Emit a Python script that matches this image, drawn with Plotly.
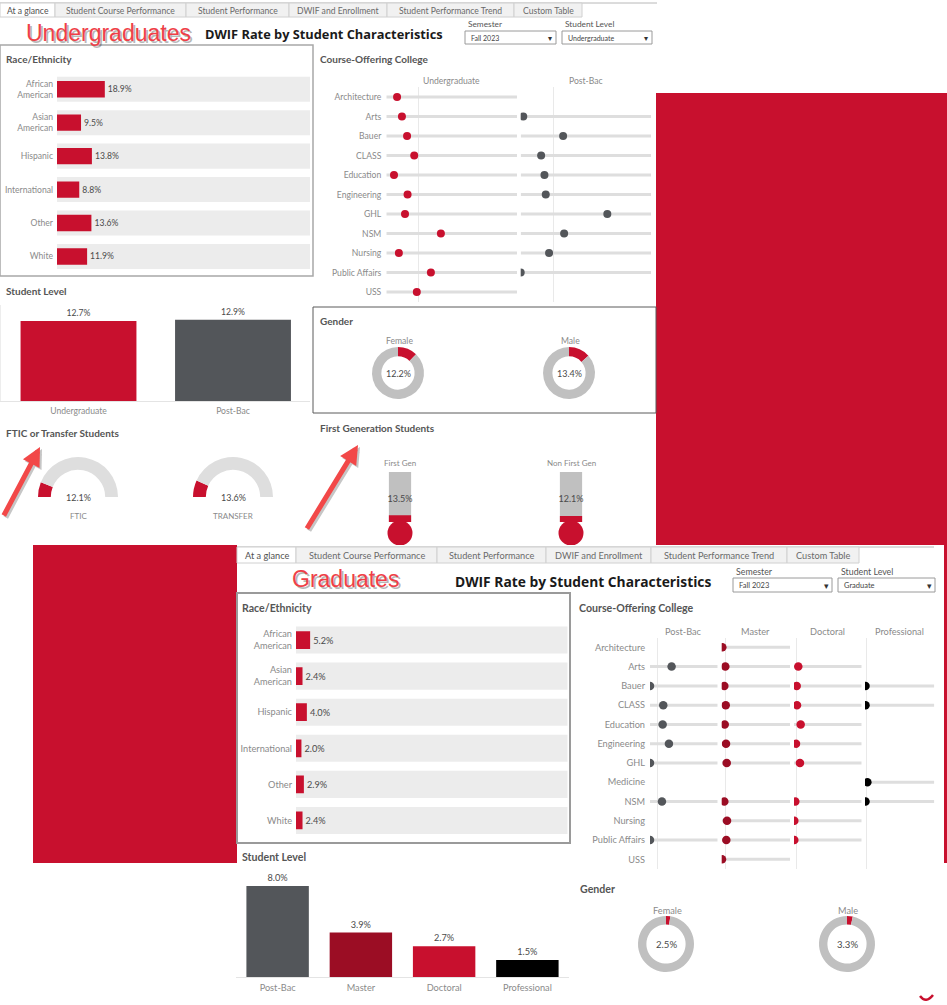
import plotly.graph_objects as go

W, H = 947, 1005
RED = "#c8102e"
DRED = "#9b0d24"
DGRAY = "#53565a"
LGRAY = "#dcdcdc"
RING = "#c0c0c0"
LBL = "#8a8a8a"
TXT = "#4a4a4a"
FONT = "Lato"

# ---------------- data ----------------
race_labels = ["African<br>American", "Asian<br>American", "Hispanic", "International", "Other", "White"]
ug_race = [18.9, 9.5, 13.8, 8.8, 13.6, 11.9]
gr_race = [5.2, 2.4, 4.0, 2.0, 2.9, 2.4]

ug_levels = ["Undergraduate", "Post-Bac"]
ug_level_vals = [12.7, 12.9]
gr_levels = ["Post-Bac", "Master", "Doctoral", "Professional"]
gr_level_vals = [8.0, 3.9, 2.7, 1.5]

ug_colleges = ["Architecture", "Arts", "Bauer", "CLASS", "Education", "Engineering", "GHL",
               "NSM", "Nursing", "Public Affairs", "USS"]
ug_college_ug = [4.2, 6.1, 8.1, 10.9, 3.0, 8.3, 7.3, 21.3, 4.9, 17.4, 11.9]
ug_college_pb = [None, 1.0, 16.6, 8.0, 9.3, 9.8, 33.9, 17.0, 11.1, 0.0, None]

gr_colleges = ["Architecture", "Arts", "Bauer", "CLASS", "Education", "Engineering", "GHL",
               "Medicine", "NSM", "Nursing", "Public Affairs", "USS"]
gr_college_pb = [None, 21.7, 0.0, 13.3, 12.7, 19.0, 0.0, None, 12.0, None, 0.0, None]
gr_college_master = [0.6, 3.6, 2.6, 4.0, 3.0, 4.3, 5.0, None, 2.6, 5.3, 4.6, 0.3]
gr_college_doct = [None, 4.3, 2.7, 3.0, 6.7, 2.0, 6.0, None, 1.3, 0.3, 0.3, None]
gr_college_prof = [None, None, 0.5, 0.5, None, None, None, 2.3, 0.5, None, None, None]

gender_labels = ["Female", "Male"]
ug_gender = [12.2, 13.4]
gr_gender = [2.5, 3.3]

ftic_labels = ["FTIC", "TRANSFER"]
ftic_vals = [12.1, 13.6]

firstgen_labels = ["First Gen", "Non First Gen"]
firstgen_vals = [13.5, 12.1]

tab_names = ["At a glance", "Student Course Performance", "Student Performance",
             "DWIF and Enrollment", "Student Performance Trend", "Custom Table"]


# ---------------- helpers ----------------
def px(x):
    return x / W


def py(y):
    return 1 - y / H


def dx(a, b):
    return [a / W, b / W]


def dy(top, bottom):
    return [1 - bottom / H, 1 - top / H]


fig = go.Figure()
layout = {}
annotations = []
shapes = []


def axname(n):
    return ("xaxis", "yaxis") if n == 1 else (f"xaxis{n}", f"yaxis{n}")


def ref(n):
    return ("x", "y") if n == 1 else (f"x{n}", f"y{n}")


def add_axes(n, xd, yd, xkw=None, ykw=None):
    xa, ya = axname(n)
    xr, yr = ref(n)
    base = dict(showgrid=False, zeroline=False, showticklabels=False, ticks="",
                fixedrange=True, showline=False)
    xk = dict(base, domain=xd, anchor=yr)
    yk = dict(base, domain=yd, anchor=xr)
    if xkw:
        xk.update(xkw)
    if ykw:
        yk.update(ykw)
    layout[xa] = xk
    layout[ya] = yk


def text(x, y, s, size=9, color=TXT, xanchor="center", yanchor="middle", family=FONT, **kw):
    annotations.append(dict(x=px(x), y=py(y), xref="paper", yref="paper", text=s,
                            showarrow=False, xanchor=xanchor, yanchor=yanchor,
                            font=dict(size=size, color=color, family=family), **kw))


def rect(x0, y0, x1, y1, fill=None, line=None, lw=1, layer="below"):
    shapes.append(dict(type="rect", xref="paper", yref="paper",
                       x0=px(x0), x1=px(x1), y0=py(y1), y1=py(y0),
                       fillcolor=fill if fill else "rgba(0,0,0,0)",
                       line=dict(color=line if line else "rgba(0,0,0,0)", width=lw if line else 0),
                       layer=layer))


def hline(x0, x1, y, color, w=1):
    shapes.append(dict(type="line", xref="paper", yref="paper", x0=px(x0), x1=px(x1),
                       y0=py(y), y1=py(y), line=dict(color=color, width=w), layer="below"))


# ---------------- background panels ----------------
rect(656, 93, 947, 545, fill=RED)
rect(33, 545, 947, 863, fill=RED)
rect(237, 545, 944, 1005, fill="white")
# small red stroke at the bottom-right corner
shapes.append(dict(type="path", xref="paper", yref="paper",
                   path=f"M {px(920)} {py(996)} Q {px(926)} {py(1004)} {px(933)} {py(995)}",
                   line=dict(color=RED, width=2.5), layer="below"))


# ---------------- tabs / headers ----------------
def tabs(edges, ytop, ybot, size):
    hline(edges[0], edges[-1] + 75, ytop, "#b8b8b8", 1)
    for i, name in enumerate(tab_names):
        a, b = edges[i], edges[i + 1]
        rect(a, ytop, b, ybot, fill="white" if i == 0 else "#f1f1f1", line="#d0d0d0", lw=1)
        text((a + b) / 2, (ytop + ybot) / 2 + 0.5, name, size=size, color="#505050" if i == 0 else "#6a6a6a")


tabs([0, 55, 186, 289, 387, 514, 582], 3, 17, 8.6)
tabs([237, 296, 437, 546, 651, 787, 859], 547, 563, 9.2)


def dropdown(x0, x1, ytop, ybot, label, value, size):
    text(x0 + 1, ytop - 7, label, size=size, color="#555", xanchor="left")
    rect(x0, ytop, x1, ybot, fill="white", line="#9a9a9a", lw=1)
    text(x0 + 4, (ytop + ybot) / 2, value, size=size - 1.3, color="#444", xanchor="left")
    text(x1 - 6, (ytop + ybot) / 2, "▾", size=size, color="#333")


dropdown(465, 556, 31, 44, "Semester", "Fall 2023", 8.3)
dropdown(562, 652, 31, 44, "Student Level", "Undergraduate", 8.3)
dropdown(733, 832, 578, 592, "Semester", "Fall 2023", 8.8)
dropdown(838, 935, 578, 592, "Student Level", "Graduate", 8.8)

# big red titles with shadow
text(110, 35, "Undergraduates", size=23, color="rgba(0,0,0,0.28)", family="Liberation Sans")
text(108, 33, "Undergraduates", size=23, color="#ef3f48", family="Liberation Sans")
text(347, 581, "Graduates", size=23, color="rgba(0,0,0,0.28)", family="Liberation Sans")
text(345, 579, "Graduates", size=23, color="#ef3f48", family="Liberation Sans")
text(203, 34, "<b>DWIF Rate by Student Characteristics</b>", size=12.8, color="#1a1a1a",
     xanchor="left", family="Open Sans")
text(453, 581, "<b>DWIF Rate by Student Characteristics</b>", size=13.8, color="#1a1a1a",
     xanchor="left", family="Open Sans")

# section titles
for (x, y, s, sz) in [(4, 59, "Race/Ethnicity", 10), (318, 59, "Course-Offering College", 10),
                      (4, 291, "Student Level", 10), (318, 321, "Gender", 10),
                      (4, 433, "FTIC or Transfer Students", 10), (318, 428, "First Generation Students", 10),
                      (240, 608, "Race/Ethnicity", 10.6), (577, 608, "Course-Offering College", 10.6),
                      (240, 857, "Student Level", 10.6), (578, 889, "Gender", 10.6)]:
    text(x, y, f"<b>{s}</b>", size=sz, color="#555", xanchor="left")

# panel borders
rect(0, 45, 313, 276, line="#a8a8a8", lw=1.5)
rect(313, 307, 656, 413, line="#5a5a5a", lw=1)
rect(237, 593, 570, 843, line="#9a9a9a", lw=2)


# ---------------- race / ethnicity bars ----------------
def race_chart(n, vals, xd, yd, size):
    xr, yr = ref(n)
    idx = list(range(len(race_labels)))
    fig.add_trace(go.Bar(x=[100] * len(vals), y=idx, orientation="h", width=0.75,
                         marker=dict(color="#ececec", line=dict(width=0)),
                         hoverinfo="skip", xaxis=xr, yaxis=yr, showlegend=False))
    fig.add_trace(go.Bar(x=vals, y=idx, orientation="h", width=0.49,
                         marker=dict(color=RED, line=dict(width=0)),
                         text=[f"{v:.1f}%" for v in vals], textposition="outside",
                         textfont=dict(size=size, color=TXT, family=FONT), cliponaxis=False,
                         xaxis=xr, yaxis=yr, showlegend=False))
    add_axes(n, xd, yd, xkw=dict(range=[0, 100]),
             ykw=dict(range=[5.5, -0.5], tickvals=idx, ticktext=race_labels, showticklabels=True,
                      tickfont=dict(size=size, color=LBL, family=FONT), ticklabelstandoff=3))


race_chart(1, ug_race, dx(57, 310), dy(72.5, 273.2), 8.6)
race_chart(6, gr_race, dx(296, 567.7), dy(622, 838.5), 9.2)


# ---------------- student level bars ----------------
def level_chart(n, cats, vals, colors, xd, yd, ymax, size):
    xr, yr = ref(n)
    idx = list(range(len(cats)))
    fig.add_trace(go.Bar(x=idx, y=vals, width=0.75, marker=dict(color=colors, line=dict(width=0)),
                         text=[f"{v:.1f}%" for v in vals], textposition="outside",
                         textfont=dict(size=size, color=TXT, family=FONT), cliponaxis=False,
                         xaxis=xr, yaxis=yr, showlegend=False))
    add_axes(n, xd, yd,
             xkw=dict(range=[-0.5, len(cats) - 0.5], tickvals=idx, ticktext=cats, showticklabels=True,
                      tickfont=dict(size=size, color=LBL, family=FONT), showline=True,
                      linecolor="#e4e4e4", linewidth=1, ticklabelstandoff=2),
             ykw=dict(range=[0, ymax], showline=True, linecolor="#ededed", linewidth=1))


level_chart(2, ug_levels, ug_level_vals, [RED, DGRAY], dx(1.25, 310.25), dy(305, 401), 15.24, 8.6)
level_chart(7, gr_levels, gr_level_vals, [DGRAY, DRED, RED, "#000000"], dx(236, 569), dy(870, 977),
            9.4, 9.2)
layout["yaxis7"]["showline"] = False


# ---------------- course-offering college dot plots ----------------
def dot_panel(n, cats, vals, ref_val, color, xd, yd, xmax, show_labels, size, msize):
    xr, yr = ref(n)
    lx, ly, mx, my = [], [], [], []
    for i, v in enumerate(vals):
        if v is None:
            continue
        lx += [0, xmax, None]
        ly += [i, i, None]
        mx.append(v)
        my.append(i)
    fig.add_trace(go.Scatter(x=lx, y=ly, mode="lines", line=dict(color="#dedede", width=3),
                             hoverinfo="skip", xaxis=xr, yaxis=yr, showlegend=False, cliponaxis=True))
    fig.add_trace(go.Scatter(x=mx, y=my, mode="markers", marker=dict(color=color, size=msize),
                             xaxis=xr, yaxis=yr, showlegend=False, cliponaxis=True))
    idx = list(range(len(cats)))
    ykw = dict(range=[len(cats) - 0.5, -0.5], tickvals=idx, ticktext=cats,
               showticklabels=show_labels, tickfont=dict(size=size, color=LBL, family=FONT),
               ticklabelstandoff=4)
    add_axes(n, xd, yd, xkw=dict(range=[0, xmax], showgrid=True, tickvals=[ref_val],
                                 gridcolor="#e9e9e9", gridwidth=1), ykw=ykw)


top_yd = dy(87.25, 301.75)
dot_panel(3, ug_colleges, ug_college_ug, ug_level_vals[0], RED, dx(386.3, 517), top_yd, 51, True, 8.6, 8)
dot_panel(4, ug_colleges, ug_college_pb, ug_level_vals[1], DGRAY, dx(520.7, 651), top_yd, 51, False, 8.6, 8)
text(451.6, 81, "Undergraduate", size=8.6, color=LBL)
text(585.9, 81, "Post-Bac", size=8.6, color=LBL)

bot_yd = dy(637.7, 869)
gr_panels = [(8, gr_college_pb, gr_level_vals[0], DGRAY, (650, 717.7)),
             (9, gr_college_master, gr_level_vals[1], DRED, (721.7, 790)),
             (10, gr_college_doct, gr_level_vals[2], RED, (794, 861.7)),
             (11, gr_college_prof, gr_level_vals[3], "#000000", (865, 934.3))]
for k, (n, vals, rv, col, (a, b)) in enumerate(gr_panels):
    dot_panel(n, gr_colleges, vals, rv, col, dx(a, b), bot_yd, 68, k == 0, 9.2, 8.5)
    text((a + b) / 2, 631, gr_levels[k], size=9.2, color=LBL)


# ---------------- gender donuts ----------------
def donut(val, label, cx, cy, r, hole, size):
    fig.add_trace(go.Pie(values=[val, 100 - val], marker=dict(colors=[RED, RING], line=dict(width=0)),
                         hole=hole, sort=False, direction="clockwise", rotation=0,
                         textinfo="none", hoverinfo="skip", showlegend=False,
                         domain=dict(x=dx(cx - r, cx + r), y=dy(cy - r, cy + r))))
    text(cx, cy, f"{val:.1f}%", size=size, color=TXT)
    text(cx + 1, cy - r - 6, label, size=size - 0.4, color=LBL)


for lab, v, cx in zip(gender_labels, ug_gender, [398, 569]):
    donut(v, lab, cx, 373, 26, 0.64, 9)
for lab, v, cx in zip(gender_labels, gr_gender, [666, 847]):
    donut(v, lab, cx, 944, 28, 0.70, 9.6)

# ---------------- FTIC / transfer gauges ----------------
for lab, v, cx in zip(ftic_labels, ftic_vals, [78, 233]):
    r = 40
    cy = 497
    fig.add_trace(go.Pie(values=[v, 100 - v, 100],
                         marker=dict(colors=[RED, "#dedede", "rgba(0,0,0,0)"], line=dict(width=0)),
                         hole=0.68, sort=False, direction="clockwise", rotation=-90,
                         textinfo="none", hoverinfo="skip", showlegend=False,
                         domain=dict(x=dx(cx - r, cx + r), y=dy(cy - r, cy + r))))
    text(cx, cy, f"{v:.1f}%", size=9, color=TXT)
    text(cx, cy + 19, lab, size=8, color=LBL)

# ---------------- first generation thermometers ----------------
tidx = list(range(len(firstgen_labels)))
fig.add_trace(go.Bar(x=tidx, y=[100] * len(tidx), width=0.13, marker=dict(color=RING, line=dict(width=0)),
                     hoverinfo="skip", xaxis="x5", yaxis="y5", showlegend=False))
fig.add_trace(go.Bar(x=tidx, y=firstgen_vals, width=0.13, marker=dict(color=RED, line=dict(width=0)),
                     hoverinfo="skip", xaxis="x5", yaxis="y5", showlegend=False))
fig.add_trace(go.Scatter(x=tidx, y=[-22] * len(tidx), mode="markers", marker=dict(color=RED, size=25),
                         xaxis="x5", yaxis="y5", showlegend=False, cliponaxis=True))
fig.add_trace(go.Scatter(x=tidx, y=[44] * len(tidx), mode="text",
                         text=[f"{v:.1f}%" for v in firstgen_vals],
                         textfont=dict(size=9, color=TXT, family=FONT),
                         xaxis="x5", yaxis="y5", showlegend=False))
add_axes(5, dx(314.5, 656.5), dy(472, 545), xkw=dict(range=[-0.5, 1.5]), ykw=dict(range=[-46, 100]))
for lab, cx in zip(firstgen_labels, [400, 571]):
    text(cx, 463, lab, size=8, color=LBL)

# ---------------- arrows ----------------
for (hx, hy, tx, ty) in [(40, 447, 3, 517), (358, 445, 306, 530)]:
    annotations.append(dict(x=px(hx + 2), y=py(hy + 2), xref="paper", yref="paper", text="",
                            showarrow=True, ax=tx - hx, ay=ty - hy, arrowhead=2, arrowsize=0.75,
                            arrowwidth=5, arrowcolor="rgba(0,0,0,0.22)"))
    annotations.append(dict(x=px(hx), y=py(hy), xref="paper", yref="paper", text="",
                            showarrow=True, ax=tx - hx, ay=ty - hy, arrowhead=2, arrowsize=0.75,
                            arrowwidth=5, arrowcolor="#f24848"))

fig.update_layout(
    width=W, height=H, margin=dict(l=0, r=0, t=0, b=0, pad=0),
    paper_bgcolor="white", plot_bgcolor="rgba(0,0,0,0)",
    barmode="overlay", showlegend=False, font=dict(family=FONT, size=9, color=TXT),
    annotations=annotations, shapes=shapes, **layout,
)
fig.write_html("out.html", config={"displayModeBar": False},
               post_script="document.body.style.margin='0';document.body.style.overflow='hidden';")
